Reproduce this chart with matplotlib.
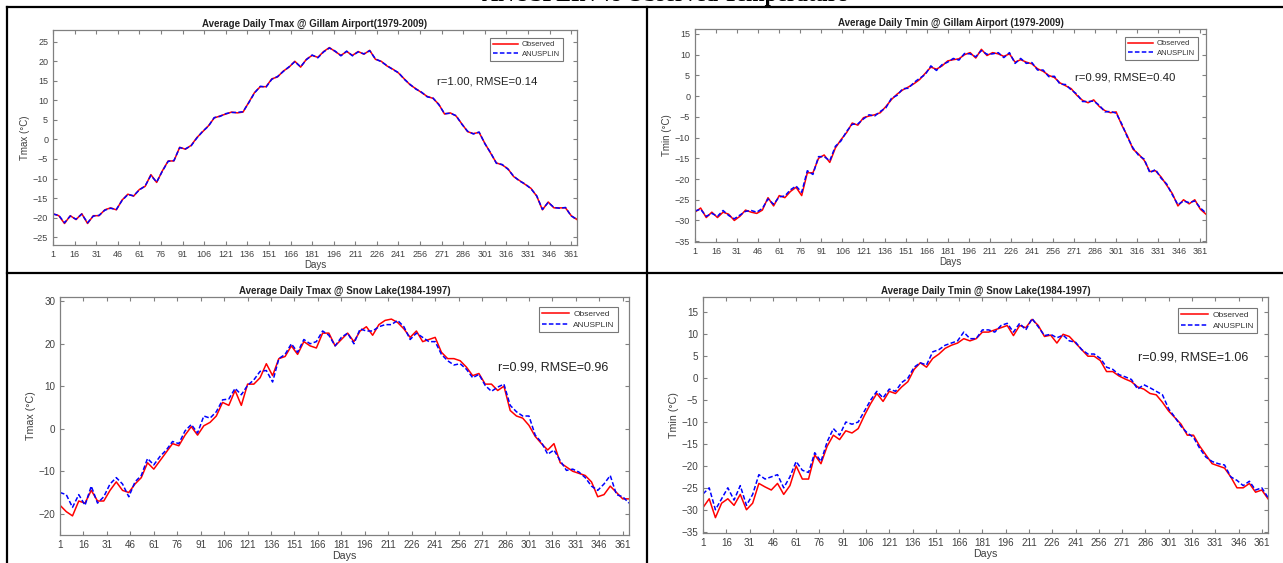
import numpy as np
import matplotlib
matplotlib.use("Agg")
import matplotlib.pyplot as plt
from matplotlib.lines import Line2D

plt.rcParams['font.family'] = ['Liberation Sans', 'DejaVu Sans']

# days sampled every 4th day
days = np.arange(1, 366, 4)
xticks = list(range(1, 362, 15))

# Gillam Airport Tmax
gillam_tmax_obs = [-19.0, -19.5, -21.5, -19.5, -20.5, -19.0, -21.5, -19.5, -19.5, -18.0,
                   -17.5, -18.0, -15.5, -14.0, -14.5, -12.8, -12.0, -9.0, -11.0, -8.0,
                   -5.5, -5.5, -2.0, -2.5, -1.5, 0.5, 2.0, 3.5, 5.5, 6.0,
                   6.5, 7.0, 6.8, 7.0, 9.5, 12.0, 13.5, 13.5, 15.5, 16.0,
                   17.5, 18.5, 20.0, 18.5, 20.5, 21.5, 21.0, 22.5, 23.5, 22.5,
                   21.5, 22.5, 21.5, 22.5, 21.8, 22.8, 20.5, 20.0, 18.8, 18.0,
                   17.0, 15.5, 14.0, 13.0, 12.0, 11.0, 10.5, 9.0, 6.5, 6.8,
                   6.0, 4.0, 2.0, 1.5, 1.8, -1.0, -3.5, -6.0, -6.5, -7.5,
                   -9.5, -10.5, -11.5, -12.5, -14.5, -18.0, -16.0, -17.5, -17.5, -17.5,
                   -19.5, -20.5]
gillam_tmax_anu = [-19.1, -19.4, -21.3, -19.6, -20.4, -19.1, -21.3, -19.6, -19.4, -18.1,
                   -17.6, -17.9, -15.6, -14.1, -14.4, -12.9, -11.9, -9.2, -10.9, -8.1,
                   -5.6, -5.4, -2.1, -2.4, -1.6, 0.4, 2.1, 3.4, 5.6, 5.9,
                   6.6, 6.9, 6.9, 7.1, 9.4, 11.9, 13.6, 13.4, 15.4, 16.1,
                   17.4, 18.6, 19.9, 18.6, 20.4, 21.6, 20.9, 22.4, 23.4, 22.6,
                   21.4, 22.6, 21.4, 22.4, 21.9, 22.7, 20.6, 19.9, 18.9, 17.9,
                   17.1, 15.4, 14.1, 12.9, 12.1, 10.9, 10.6, 8.9, 6.6, 6.7,
                   6.1, 3.9, 2.1, 1.4, 1.9, -1.1, -3.4, -6.1, -6.4, -7.6,
                   -9.4, -10.6, -11.4, -12.6, -14.4, -17.9, -16.1, -17.4, -17.6, -17.4,
                   -19.6, -20.4]

# Gillam Airport Tmin
gillam_tmin_obs = [-28.0, -27.0, -29.3, -28.0, -29.3, -28.0, -28.5, -30.0, -29.0, -27.5,
                   -28.0, -28.3, -27.5, -24.5, -26.5, -24.0, -24.5, -23.0, -22.0, -24.0,
                   -18.5, -18.5, -15.0, -14.2, -16.0, -12.5, -10.5, -8.8, -6.5, -7.0,
                   -5.2, -4.8, -4.5, -4.0, -2.5, -0.8, 0.5, 1.5, 2.2, 3.0,
                   4.0, 5.5, 7.0, 6.5, 7.3, 8.5, 8.8, 9.0, 10.0, 10.5,
                   9.2, 11.3, 9.8, 10.5, 10.2, 9.6, 10.2, 8.2, 8.8, 8.2,
                   7.8, 6.6, 6.0, 5.0, 4.5, 3.2, 2.5, 1.8, 0.2, -1.0,
                   -1.6, -0.9, -2.5, -3.5, -4.0, -3.8, -7.0, -9.6, -12.8, -14.0,
                   -15.5, -18.2, -18.0, -19.5, -21.5, -23.5, -26.5, -25.0, -26.0, -25.0,
                   -27.3, -28.5]
gillam_tmin_anu = [-27.7, -27.3, -29.0, -28.3, -29.0, -27.6, -28.8, -29.6, -28.7, -27.8,
                   -27.6, -28.0, -27.1, -24.8, -26.1, -24.3, -24.1, -22.6, -21.7, -23.2,
                   -18.0, -18.9, -14.6, -14.6, -15.6, -12.1, -10.8, -8.5, -6.8, -6.7,
                   -5.5, -4.5, -4.8, -3.7, -2.8, -0.5, 0.2, 1.8, 1.9, 3.3,
                   4.3, 5.2, 7.3, 6.2, 7.6, 8.2, 9.1, 8.7, 10.3, 10.2,
                   9.5, 11.0, 10.1, 10.2, 10.5, 9.3, 10.5, 7.9, 9.1, 7.9,
                   8.1, 6.3, 6.3, 4.7, 4.8, 2.9, 2.8, 1.5, 0.5, -1.3,
                   -1.3, -1.2, -2.2, -3.8, -3.7, -4.1, -6.7, -9.9, -12.5, -14.3,
                   -15.2, -18.5, -17.7, -19.8, -21.2, -23.8, -26.2, -25.3, -25.7, -25.3,
                   -27.0, -28.2]

# Snow Lake Tmax
snow_tmax_obs = [-18.0, -19.5, -20.5, -17.0, -17.5, -14.5, -17.0, -17.0, -14.5, -12.5,
                 -14.5, -15.0, -13.0, -11.5, -8.0, -9.5, -7.5, -5.5, -3.5, -4.0,
                 -1.5, 0.5, -1.5, 0.7, 1.5, 3.0, 6.2, 5.5, 9.0, 5.5,
                 10.5, 10.5, 12.0, 15.3, 12.5, 16.5, 17.0, 19.5, 17.5, 20.5,
                 19.5, 19.0, 22.5, 22.5, 19.5, 21.0, 22.5, 20.5, 23.0, 24.0,
                 22.0, 24.5, 25.5, 25.8, 25.0, 23.5, 21.5, 23.0, 20.5, 21.0,
                 21.5, 18.0, 16.5, 16.5, 16.0, 14.5, 12.5, 13.0, 10.5, 10.5,
                 9.0, 10.0, 4.3, 3.0, 2.5, 0.8, -1.8, -3.5, -5.0, -3.5,
                 -8.0, -9.0, -10.0, -10.5, -11.0, -12.5, -16.0, -15.5, -13.5, -15.0,
                 -16.5, -16.5]
snow_tmax_anu = [-15.0, -15.5, -18.5, -15.5, -18.0, -13.5, -17.5, -16.0, -13.0, -11.5,
                 -13.0, -16.0, -12.5, -11.0, -7.0, -8.5, -6.5, -5.0, -3.0, -3.5,
                 -0.5, 1.0, -1.0, 3.0, 2.5, 4.0, 6.8, 7.0, 9.5, 8.0,
                 10.2, 11.5, 13.5, 13.7, 11.0, 16.5, 17.5, 20.0, 18.0, 21.0,
                 20.0, 20.5, 23.0, 22.0, 19.5, 21.5, 22.5, 20.0, 23.5, 23.0,
                 23.0, 24.0, 24.5, 24.5, 25.5, 24.0, 21.0, 22.5, 21.5, 20.5,
                 20.5, 17.5, 16.0, 15.0, 15.3, 14.0, 12.0, 12.8, 10.2, 8.8,
                 9.8, 10.5, 5.5, 4.0, 3.0, 3.0, -1.5, -3.2, -6.0, -5.0,
                 -7.5, -9.8, -9.5, -10.2, -11.5, -13.5, -14.5, -13.0, -11.0, -15.5,
                 -16.0, -17.5]

# Snow Lake Tmin
snow_tmin_obs = [-29.5, -27.5, -31.8, -28.5, -27.5, -29.0, -26.5, -30.0, -28.5, -24.0,
                 -24.8, -25.5, -24.0, -26.5, -24.5, -20.0, -23.0, -23.0, -17.5, -19.5,
                 -15.5, -13.0, -14.0, -12.0, -12.5, -11.5, -8.5, -5.8, -3.5, -5.3,
                 -3.0, -3.5, -2.0, -0.8, 2.0, 3.5, 2.5, 4.5, 5.5, 6.8,
                 7.5, 8.0, 9.0, 8.5, 9.0, 10.5, 10.5, 11.0, 11.5, 12.0,
                 9.7, 12.0, 11.5, 13.4, 12.0, 9.5, 9.8, 8.0, 10.0, 9.5,
                 8.0, 6.5, 5.0, 5.0, 4.0, 1.5, 1.5, 0.5, -0.2, -0.8,
                 -2.0, -2.5, -3.5, -3.8, -5.5, -7.5, -9.0, -10.5, -13.0, -13.0,
                 -15.5, -17.5, -19.5, -20.0, -20.5, -22.5, -25.0, -25.0, -24.0, -26.0,
                 -25.5, -27.5]
snow_tmin_anu = [-26.4, -25.0, -30.0, -27.5, -25.0, -27.8, -24.5, -29.0, -26.5, -22.0,
                 -23.0, -22.5, -22.0, -25.0, -22.5, -19.0, -21.0, -21.5, -17.0, -19.0,
                 -14.5, -11.5, -13.0, -10.0, -10.5, -10.0, -7.5, -5.0, -3.0, -4.5,
                 -2.5, -3.0, -1.0, 0.0, 2.5, 3.5, 3.0, 6.0, 6.5, 7.5,
                 8.0, 8.5, 10.5, 9.0, 9.0, 11.0, 11.0, 10.5, 12.0, 12.5,
                 10.5, 12.5, 11.0, 13.6, 11.7, 9.7, 10.0, 9.2, 9.8, 8.5,
                 8.2, 6.5, 5.5, 5.5, 4.5, 2.5, 2.0, 0.8, 0.3, -0.3,
                 -2.5, -1.5, -2.2, -3.0, -3.8, -7.0, -8.9, -11.0, -12.5, -13.5,
                 -16.0, -18.0, -19.0, -19.5, -19.8, -22.5, -23.3, -24.5, -23.5, -25.5,
                 -25.0, -27.2]

W, H = 1283, 563
fig = plt.figure(figsize=(W / 100, H / 100), dpi=100)


def px_axes(left, right, top, bottom):
    return fig.add_axes([left / W, 1 - bottom / H, (right - left) / W, (bottom - top) / H])


panels = [
    # (pixel box, title, ylabel, obs, anu, ylim, yticks, stats, stat pos, legend anchor, font scale)
    ((53, 577, 30, 245), 'Average Daily Tmax @ Gillam Airport(1979-2009)', 'Tmax (°C)',
     gillam_tmax_obs, gillam_tmax_anu, (-27, 28), range(-25, 26, 5),
     'r=1.00, RMSE=0.14', (268, 14.7), (0.973, 0.963), 1.0),
    ((695, 1206, 29, 242), 'Average Daily Tmin @ Gillam Airport (1979-2009)', 'Tmin (°C)',
     gillam_tmin_obs, gillam_tmin_anu, (-35.2, 16.2), range(-35, 16, 5),
     'r=0.99, RMSE=0.40', (272, 4.6), (0.984, 0.962), 1.0),
    ((60, 629, 297, 535), 'Average Daily Tmax @ Snow Lake(1984-1997)', 'Tmax (°C)',
     snow_tmax_obs, snow_tmax_anu, (-25, 31), range(-20, 31, 10),
     'r=0.99, RMSE=0.96', (281, 14.5), (0.981, 0.958), 1.1),
    ((703, 1268, 297, 533), 'Average Daily Tmin @ Snow Lake(1984-1997)', 'Tmin (°C)',
     snow_tmin_obs, snow_tmin_anu, (-35.3, 18.5), range(-35, 16, 5),
     'r=0.99, RMSE=1.06', (281, 4.8), (0.981, 0.953), 1.1),
]

for box, title, ylabel, obs, anu, ylim, yt, stats, spos, lpos, fs in panels:
    ax = px_axes(*box)
    ax.plot(days, obs, color='#ff0000', lw=1.1, label='Observed')
    ax.plot(days, anu, color='#0000ff', lw=1.1, ls=(0, (3, 1.5)), label='ANUSPLIN')
    ax.set_xlim(1, 365)
    ax.set_ylim(*ylim)
    ax.set_xticks(xticks)
    ax.set_yticks(list(yt))
    ax.tick_params(direction='in', top=True, right=True, length=3, width=0.8,
                   colors='#808080', labelcolor='#404040', labelsize=6.5 * fs)
    for s in ax.spines.values():
        s.set_color('#808080')
        s.set_linewidth(0.9)
    ax.set_title(title, fontsize=7, fontweight='bold', color='#222222', pad=2)
    ax.set_ylabel(ylabel, fontsize=7 * fs, color='#404040', labelpad=2)
    ax.set_xlabel('Days', fontsize=7 * fs, color='#404040', labelpad=1)
    ax.text(spos[0], spos[1], stats, fontsize=8.2 * fs, color='#222222', ha='left', va='center')
    leg = ax.legend(loc='upper right', bbox_to_anchor=lpos, fontsize=5.5 * fs, frameon=True,
                    fancybox=False, handlelength=3.2, borderpad=0.4, labelspacing=0.3,
                    handletextpad=0.5, borderaxespad=0)
    leg.get_frame().set_edgecolor('#555555')
    leg.get_frame().set_linewidth(0.8)
    for t in leg.get_texts():
        t.set_color('#333333')

# table borders around the panels
lw_tab = 1.6
for (x0, y0, x1, y1) in [(7, 7, W, 7), (7, 273, W, 273), (7, 7, 7, H), (647, 7, 647, H)]:
    fig.add_artist(Line2D([x0 / W, x1 / W], [1 - y0 / H, 1 - y1 / H],
                          transform=fig.transFigure, color='black', lw=lw_tab))

# heading above the table, cut off by the top edge as in the source page
fig.text(0.518, 1 - 1 / H, 'ANUSPLIN vs Observed Temperature', ha='center', va='baseline',
         fontsize=16, fontweight='bold', family='Liberation Serif')

fig.savefig('out.png', dpi=100)
